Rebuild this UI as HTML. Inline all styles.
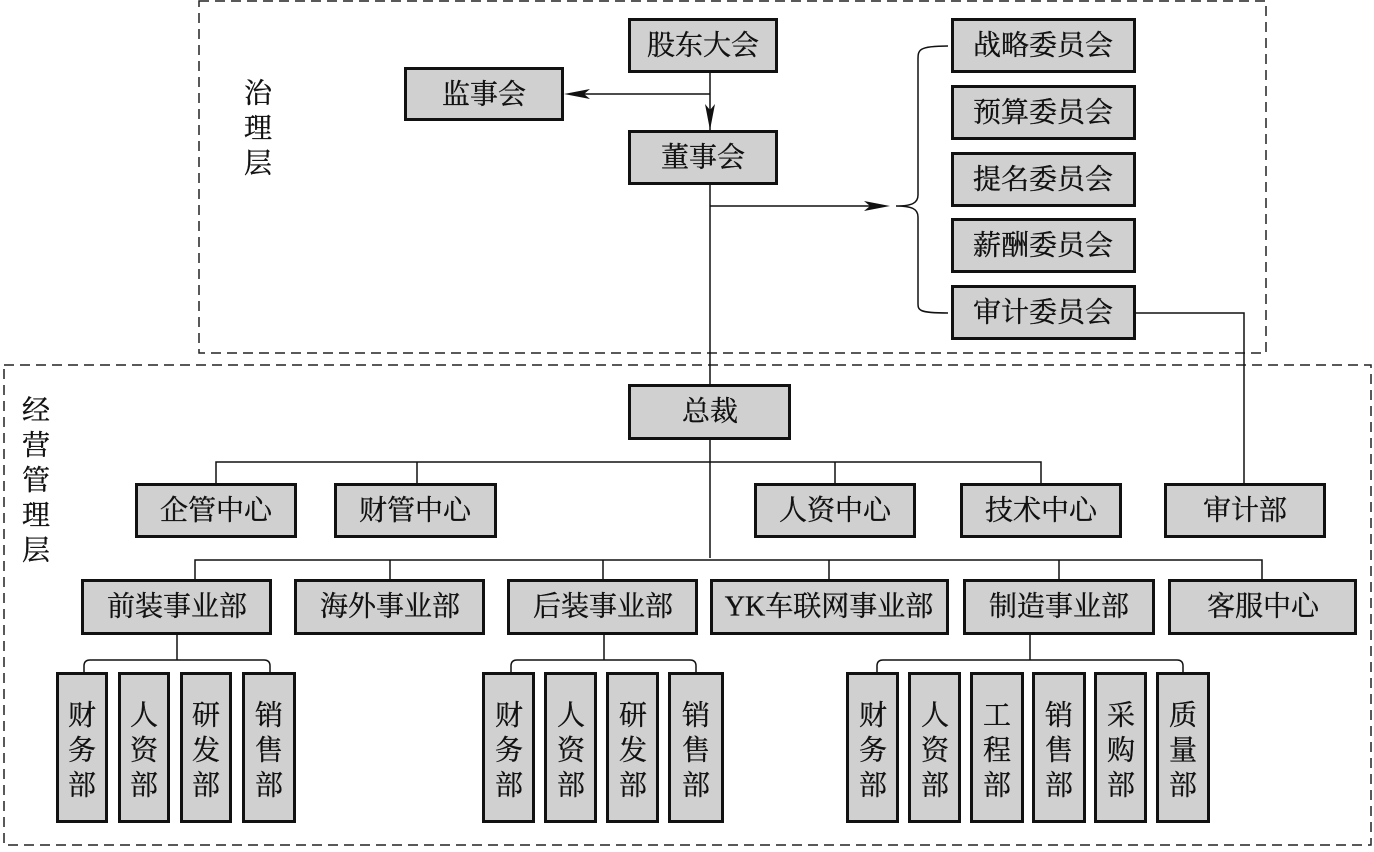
<!DOCTYPE html>
<html><head><meta charset="utf-8"><style>
body{margin:0;background:#fff;}
svg text{font-family:"Liberation Serif","Noto Serif CJK SC",serif;font-size:28px;fill:#111;stroke:#111;stroke-width:0.35;}
</style></head><body>
<svg width="1374" height="847" viewBox="0 0 1374 847" xmlns="http://www.w3.org/2000/svg">
<g fill="none" stroke="#222" stroke-width="1.5" stroke-dasharray="10,6">
<rect x="199" y="1" width="1067" height="352"/>
<rect x="4" y="365" width="1367" height="480"/>
</g>
<g stroke="#111" stroke-width="1.5" fill="none">
<line x1="710" y1="73" x2="710" y2="558"/>
<line x1="710" y1="94" x2="572" y2="94"/>
<line x1="710" y1="206" x2="880" y2="206"/>
<path d="M1136 313 H1244 V483"/>
<path d="M216 483 V462 H1041 V483 M417 462 V483 M835 462 V483"/>
<path d="M195 579 V560 H1262 V579 M390 560 V579 M603 560 V579 M829 560 V579 M1059 560 V579"/>
<path d="M948 46 C918 46 918 50 918 60 V195 C918 203 912 206 896 206 C912 206 918 209 918 217 V303 C918 310 918 313 948 313"/>
<path d="M177 635 V660 M84 672 V666 Q84 660 90 660 H264 Q270 660 270 666 V672"/>
<path d="M604 635 V660 M511 672 V666 Q511 660 517 660 H690 Q696 660 696 666 V672"/>
<path d="M1030 635 V660 M877 672 V666 Q877 660 883 660 H1177 Q1183 660 1183 666 V672"/>
</g>
<g fill="#111">
<polygon points="564,94 590,89 584,94 590,99"/>
<polygon points="710,130 705,104 710,110 715,104"/>
<polygon points="890,206 864,201 870,206 864,211"/>
</g>
<g fill="#d0d0d0" stroke="#111" stroke-width="3">
<rect x="629.5" y="19.5" width="147" height="52"/>
<rect x="405.5" y="68.5" width="157" height="51"/>
<rect x="629.5" y="131.5" width="147" height="52"/>
<rect x="952.5" y="19.5" width="182" height="52"/>
<rect x="952.5" y="86.5" width="182" height="52"/>
<rect x="952.5" y="153.5" width="182" height="52"/>
<rect x="952.5" y="219.5" width="182" height="52"/>
<rect x="952.5" y="286.5" width="182" height="52"/>
<rect x="629.5" y="385.5" width="160" height="53"/>
<rect x="136.5" y="484.5" width="159" height="52"/>
<rect x="335.5" y="484.5" width="160" height="52"/>
<rect x="755.5" y="484.5" width="159" height="52"/>
<rect x="961.5" y="484.5" width="159" height="52"/>
<rect x="1165.5" y="484.5" width="159" height="52"/>
<rect x="82.5" y="580.5" width="188" height="53"/>
<rect x="295.5" y="580.5" width="188" height="53"/>
<rect x="508.5" y="580.5" width="188" height="53"/>
<rect x="711.5" y="580.5" width="236" height="53"/>
<rect x="964.5" y="580.5" width="189" height="53"/>
<rect x="1169.5" y="580.5" width="186" height="53"/>
<rect x="57.5" y="673.5" width="49" height="148"/>
<rect x="119.5" y="673.5" width="49" height="148"/>
<rect x="181.5" y="673.5" width="49" height="148"/>
<rect x="243.5" y="673.5" width="51" height="148"/>
<rect x="483.5" y="673.5" width="50" height="148"/>
<rect x="545.5" y="673.5" width="50" height="148"/>
<rect x="607.5" y="673.5" width="50" height="148"/>
<rect x="669.5" y="673.5" width="53" height="148"/>
<rect x="847.5" y="673.5" width="50" height="148"/>
<rect x="909.5" y="673.5" width="50" height="148"/>
<rect x="971.5" y="673.5" width="51" height="148"/>
<rect x="1033.5" y="673.5" width="51" height="148"/>
<rect x="1095.5" y="673.5" width="50" height="148"/>
<rect x="1157.5" y="673.5" width="51" height="148"/>
</g>
<g text-anchor="middle" dominant-baseline="central">
<text x="703" y="46">股东大会</text>
<text x="484" y="95">监事会</text>
<text x="703" y="158">董事会</text>
<text x="1043" y="46">战略委员会</text>
<text x="1043" y="113">预算委员会</text>
<text x="1043" y="180">提名委员会</text>
<text x="1043" y="246">薪酬委员会</text>
<text x="1043" y="313">审计委员会</text>
<text x="710" y="412">总裁</text>
<text x="216" y="511">企管中心</text>
<text x="415" y="511">财管中心</text>
<text x="835" y="511">人资中心</text>
<text x="1041" y="511">技术中心</text>
<text x="1245" y="511">审计部</text>
<text x="177" y="607">前装事业部</text>
<text x="390" y="607">海外事业部</text>
<text x="603" y="607">后装事业部</text>
<text x="829" y="607">YK车联网事业部</text>
<text x="1059" y="607">制造事业部</text>
<text x="1263" y="607">客服中心</text>
<text x="258" y="94">治</text><text x="258" y="129">理</text><text x="258" y="164">层</text>
<text x="36" y="411">经</text><text x="36" y="446">营</text><text x="36" y="481">管</text><text x="36" y="516">理</text><text x="36" y="551">层</text>
</g>
<g text-anchor="middle" dominant-baseline="central">
<text x="82" y="716">财</text><text x="82" y="751">务</text><text x="82" y="786">部</text>
<text x="144" y="716">人</text><text x="144" y="751">资</text><text x="144" y="786">部</text>
<text x="206" y="716">研</text><text x="206" y="751">发</text><text x="206" y="786">部</text>
<text x="269" y="716">销</text><text x="269" y="751">售</text><text x="269" y="786">部</text>
<text x="509" y="716">财</text><text x="509" y="751">务</text><text x="509" y="786">部</text>
<text x="571" y="716">人</text><text x="571" y="751">资</text><text x="571" y="786">部</text>
<text x="633" y="716">研</text><text x="633" y="751">发</text><text x="633" y="786">部</text>
<text x="696" y="716">销</text><text x="696" y="751">售</text><text x="696" y="786">部</text>
<text x="873" y="716">财</text><text x="873" y="751">务</text><text x="873" y="786">部</text>
<text x="935" y="716">人</text><text x="935" y="751">资</text><text x="935" y="786">部</text>
<text x="997" y="716">工</text><text x="997" y="751">程</text><text x="997" y="786">部</text>
<text x="1059" y="716">销</text><text x="1059" y="751">售</text><text x="1059" y="786">部</text>
<text x="1121" y="716">采</text><text x="1121" y="751">购</text><text x="1121" y="786">部</text>
<text x="1183" y="716">质</text><text x="1183" y="751">量</text><text x="1183" y="786">部</text>
</g>
</svg>
</body></html>
